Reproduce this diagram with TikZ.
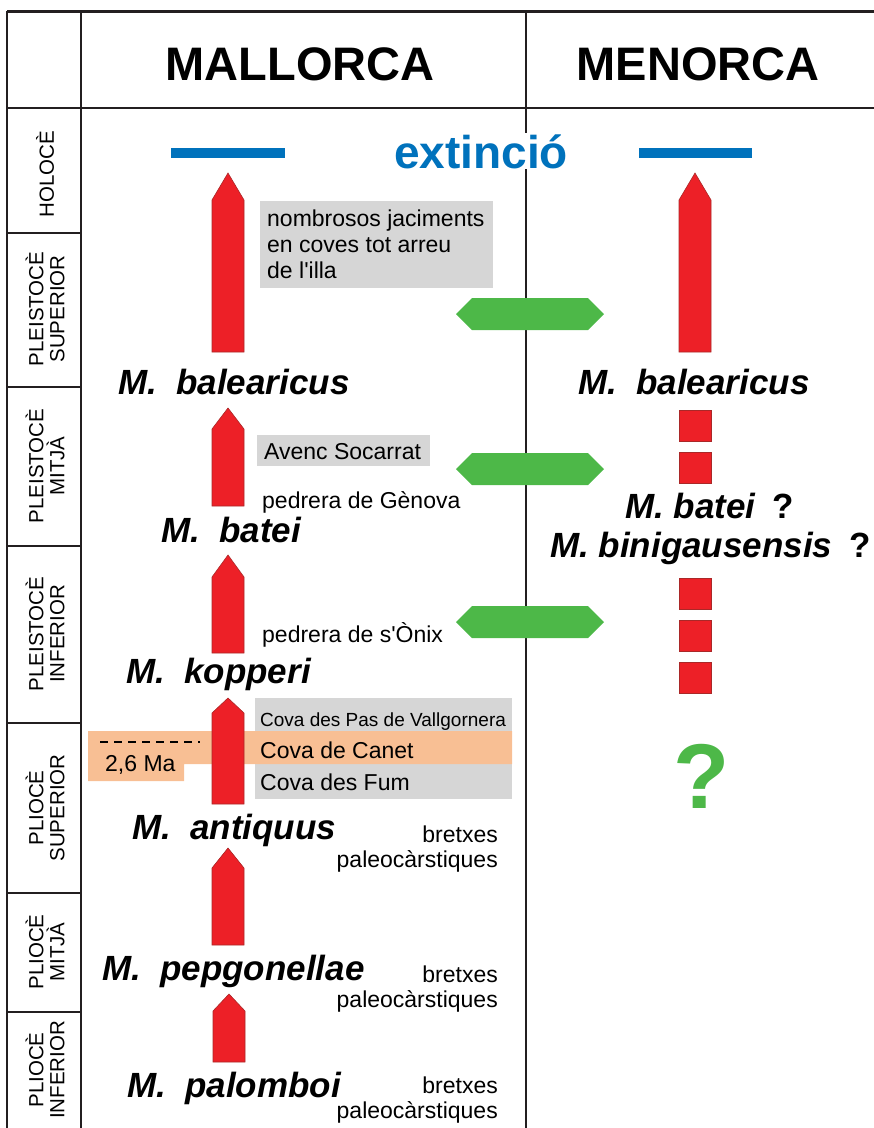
\documentclass[tikz,border=0pt]{standalone}
\usepackage{fontspec}
\setmainfont{Liberation Sans}
\setsansfont{Liberation Sans}
\definecolor{arrowred}{RGB}{237,32,39}
\definecolor{arrowedge}{RGB}{170,40,40}
\definecolor{linkgreen}{RGB}{77,184,72}
\definecolor{extblue}{RGB}{0,114,188}
\definecolor{sitegray}{RGB}{214,214,214}
\definecolor{bandorange}{RGB}{248,191,148}
\definecolor{framegray}{RGB}{35,31,32}
\newcommand{\fs}[2]{\fontsize{#1}{#2}\selectfont}
\newcommand{\genM}{M.\hspace{0.55em}}
\newcommand{\evoarrow}[4]{%
  \filldraw[fill=arrowred, draw=arrowedge, line width=0.6]
    (#1-16,#4) -- (#1-16,#3) -- (#1,#2) -- (#1+16,#3) -- (#1+16,#4) -- cycle;}
\newcommand{\linkhex}[1]{%
  \fill[linkgreen] (456,#1) -- (472,#1-16) -- (588,#1-16) -- (604,#1)
    -- (588,#1+16) -- (472,#1+16) -- cycle;}

\begin{document}
\begin{tikzpicture}[x=1pt, y=-1pt,
    species/.style={font=\bfseries\itshape\fs{35}{35}, anchor=base west, inner sep=0},
    site/.style={font=\fs{23}{26}, anchor=base west, inner sep=0},
    period/.style={rotate=90, align=center, font=\fs{20.5}{21}, inner sep=0}]
  \useasboundingbox (0,0) rectangle (874,1128);
  % \draw[help lines] (0,0) grid[step=50] (874,1128);

  % site boxes
  \fill[sitegray] (260,201) rectangle (493,288);
  \fill[sitegray] (257,435) rectangle (430,466);
  \fill[sitegray] (255,698) rectangle (512,799);
  \fill[bandorange] (88,731) -- (512,731) -- (512,764) -- (184,764)
    -- (184,781) -- (88,781) -- cycle;
  \draw[line width=1.5, dash pattern=on 8 off 6] (100,742) -- (200,742);

  % frame
  \draw[framegray, line width=3] (7,11) -- (874,11);
  \draw[framegray, line width=2.5] (7,11) -- (7,1128);
  \draw[framegray, line width=2] (81,11) -- (81,1128);
  \draw[framegray, line width=1.5] (526,11) -- (526,1128);
  \draw[framegray, line width=2] (7,108) -- (874,108);
  \foreach \y in {233,387,546,723,893,1012}
    \draw[framegray, line width=2] (7,\y) -- (81,\y);

  \node[font=\bfseries\fs{47}{47}, anchor=base] (mallorca) at (300,80) {MALLORCA};
  \node[font=\bfseries\fs{47}{47}, anchor=base] (menorca) at (698,80) {MENORCA};

  \node[period] (holo) at (45,174) {HOLOCÈ};
  \node[period] (plsup) at (45,309) {PLEISTOCÈ\\SUPERIOR};
  \node[period] (plmit) at (45,466) {PLEISTOCÈ\\MITJÀ};
  \node[period] (plinf) at (45,634) {PLEISTOCÈ\\INFERIOR};
  \node[period] (pisup) at (45,808) {PLIOCÈ\\SUPERIOR};
  \node[period] (pimit) at (45,952) {PLIOCÈ\\MITJÀ};
  \node[period] (piinf) at (45,1070) {PLIOCÈ\\INFERIOR};

  % extinction
  \fill[extblue] (171,148) rectangle (285,158);
  \fill[extblue] (639,148) rectangle (752,158);
  \node[font=\bfseries\fs{46}{46}, text=extblue, fill=white, inner sep=1,
    anchor=base] (ext) at (481,168) {extinció};

  % Mallorca
  \evoarrow{228}{173}{200}{352}
  \evoarrow{228}{408}{429}{506}
  \evoarrow{228}{555}{577}{653}
  \evoarrow{228}{698}{713}{804}
  \evoarrow{228}{848}{868}{945}
  \evoarrow{229}{994}{1011}{1062}

  \node[site, anchor=north west] (nombr) at (267,209.5)
    [align=left] {nombrosos jaciments\\en coves tot arreu\\de l\textquotesingle illa};
  \node[site] (avenc) at (264,459) {Avenc Socarrat};
  \node[site] (genova) at (262,508) {pedrera de Gènova};
  \node[site] (onix) at (262,642) {pedrera de s\textquotesingle Ònix};
  \node[site, font=\fs{19}{19}] (vallg) at (260,726) {Cova des Pas de Vallgornera};
  \node[site] (canet) at (260,758) {Cova de Canet};
  \node[site] (fum) at (260,790) {Cova des Fum};
  \node[site] (age) at (105,771) {2,6 Ma};

  \node[species] (mbal) at (118,394) {\genM balearicus};
  \node[species] (mbat) at (161,542) {\genM batei};
  \node[species] (mkop) at (126,683) {\genM kopperi};
  \node[species] (mant) at (132,839) {\genM antiquus};
  \node[species] (mpep) at (102,980) {\genM pepgonellae};
  \node[species] (mpal) at (127,1097) {\genM palomboi};

  \foreach \n/\y in {1/842,2/982,3/1093} {
    \node[site, anchor=base east] (bretx\n) at (498,\y) {bretxes};
    \node[site, anchor=base east] (paleo\n) at (498,\y+25) {paleocàrstiques};
  }

  % Menorca
  \evoarrow{695}{173}{200}{352}
  \foreach \y in {410,452,578,620,662}
    \filldraw[fill=arrowred, draw=arrowedge, line width=0.6] (679,\y) rectangle (711,\y+31);
  \node[species] (nbal) at (578,394) {\genM balearicus};
  \node[species] (nbat) at (625,518) {M. batei\hspace{0.5em}\upshape ?};
  \node[species] (nbin) at (550,557) {M. binigausensis\hspace{0.5em}\upshape ?};
  \node[font=\bfseries\fs{92}{92}, text=linkgreen, anchor=base, inner sep=0]
    (qmark) at (702,808) {?};

  % links between islands
  \linkhex{314}
  \linkhex{469}
  \linkhex{622}
\end{tikzpicture}
\end{document}
